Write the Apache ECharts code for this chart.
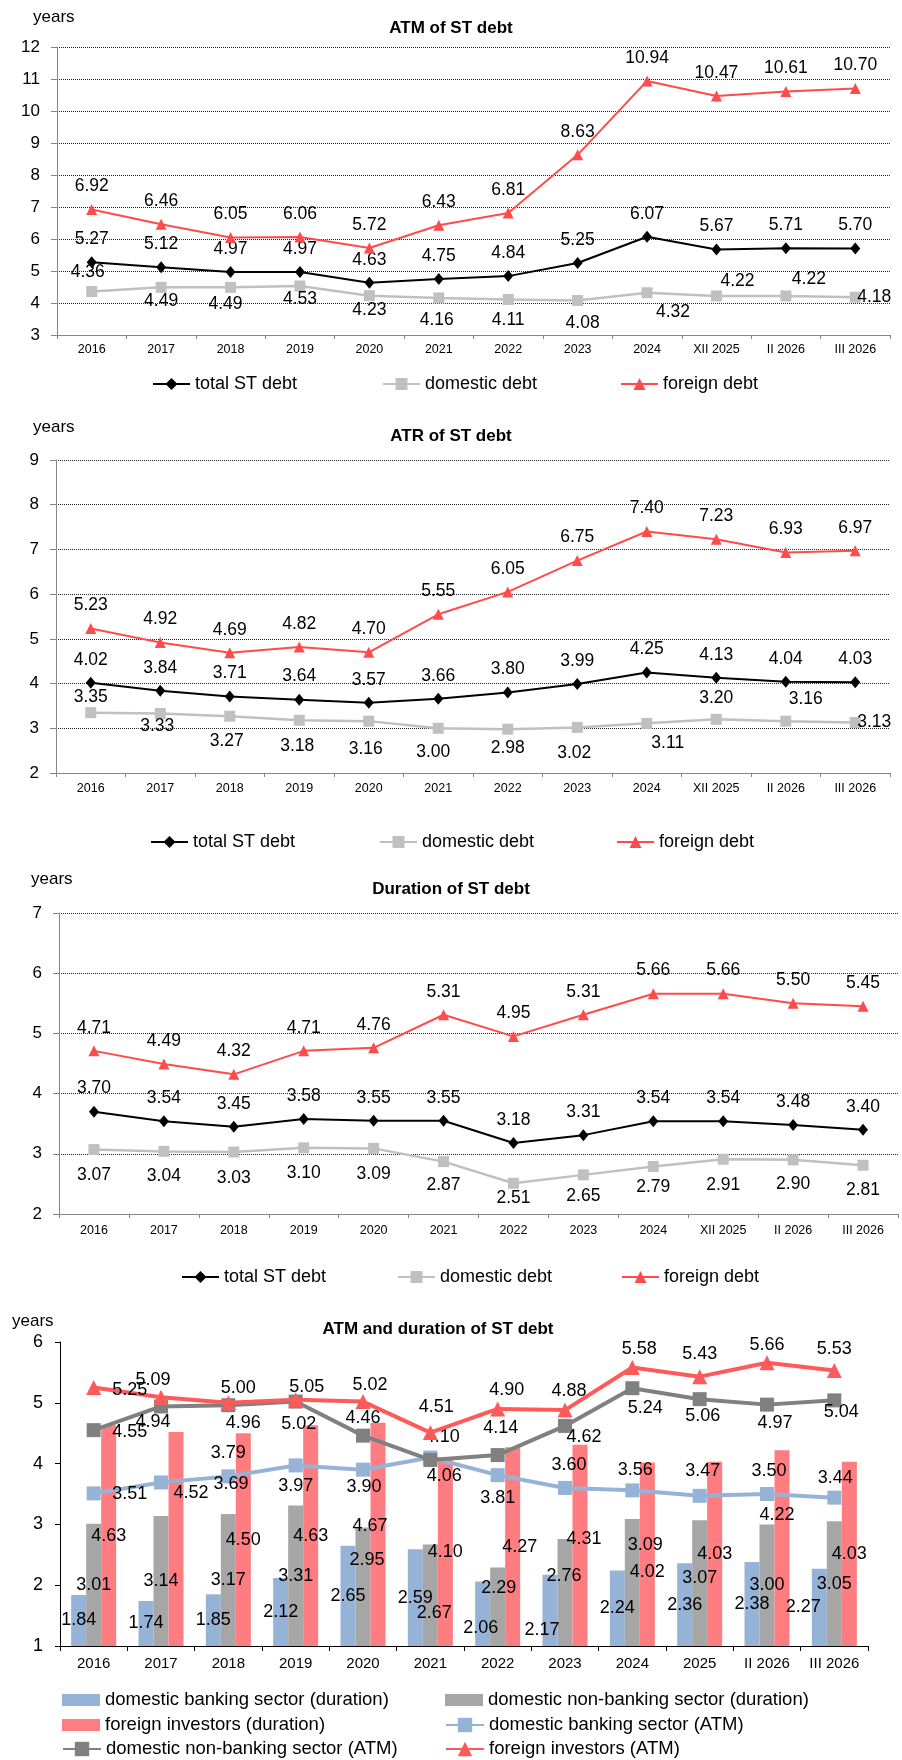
<!DOCTYPE html>
<html>
<head>
<meta charset="utf-8">
<script src="https://cdn.jsdelivr.net/npm/echarts@6/dist/echarts.min.js"></script>
<style>
  body { margin: 0; background: #fff; }
  .box { position: absolute; left: 0; width: 902px; }
</style>
</head>
<body>
<div id="c1" class="box" style="top:0;height:400px"></div>
<div id="c2" class="box" style="top:400px;height:460px"></div>
<div id="c3" class="box" style="top:860px;height:430px"></div>
<div id="c4" class="box" style="top:1290px;height:470px"></div>
<script>
// categories
var years = ['2016','2017','2018','2019','2020','2021','2022','2023','2024','XII 2025','II 2026','III 2026'];
var years4 = ['2016','2017','2018','2019','2020','2021','2022','2023','2024','2025','II 2026','III 2026'];

// ATM of ST debt
var atmTotal    = [5.27, 5.12, 4.97, 4.97, 4.63, 4.75, 4.84, 5.25, 6.07, 5.67, 5.71, 5.70];
var atmDomestic = [4.36, 4.49, 4.49, 4.53, 4.23, 4.16, 4.11, 4.08, 4.32, 4.22, 4.22, 4.18];
var atmForeign  = [6.92, 6.46, 6.05, 6.06, 5.72, 6.43, 6.81, 8.63, 10.94, 10.47, 10.61, 10.70];

// ATR of ST debt
var atrTotal    = [4.02, 3.84, 3.71, 3.64, 3.57, 3.66, 3.80, 3.99, 4.25, 4.13, 4.04, 4.03];
var atrDomestic = [3.35, 3.33, 3.27, 3.18, 3.16, 3.00, 2.98, 3.02, 3.11, 3.20, 3.16, 3.13];
var atrForeign  = [5.23, 4.92, 4.69, 4.82, 4.70, 5.55, 6.05, 6.75, 7.40, 7.23, 6.93, 6.97];

// Duration of ST debt
var durTotal    = [3.70, 3.54, 3.45, 3.58, 3.55, 3.55, 3.18, 3.31, 3.54, 3.54, 3.48, 3.40];
var durDomestic = [3.07, 3.04, 3.03, 3.10, 3.09, 2.87, 2.51, 2.65, 2.79, 2.91, 2.90, 2.81];
var durForeign  = [4.71, 4.49, 4.32, 4.71, 4.76, 5.31, 4.95, 5.31, 5.66, 5.66, 5.50, 5.45];

// ATM and duration by holder
var durBank     = [1.84, 1.74, 1.85, 2.12, 2.65, 2.59, 2.06, 2.17, 2.24, 2.36, 2.38, 2.27];
var durNonBank  = [3.01, 3.14, 3.17, 3.31, 2.95, 2.67, 2.29, 2.76, 3.09, 3.07, 3.00, 3.05];
var durForInv   = [4.63, 4.52, 4.50, 4.63, 4.67, 4.10, 4.27, 4.31, 4.02, 4.03, 4.22, 4.03];
var atmBank     = [3.51, 3.69, 3.79, 3.97, 3.90, 4.10, 3.81, 3.60, 3.56, 3.47, 3.50, 3.44];
var atmNonBank  = [4.55, 4.94, 4.96, 5.02, 4.46, 4.06, 4.14, 4.62, 5.24, 5.06, 4.97, 5.04];
var atmForInv   = [5.25, 5.09, 5.00, 5.05, 5.02, 4.51, 4.90, 4.88, 5.58, 5.43, 5.66, 5.53];

// label placement (pixel offsets from point / bar centre)
var upOff = [0, -23];
var domOff1 = [[-4,-19],[0,14],[-5,17],[0,13],[0,15],[-2,22],[0,21],[5,23],[26,19],[21,-15],[23,-17],[19,0]];
var domOff2 = [[0,-15],[-3,13],[-3,25],[-2,26],[-3,28],[-5,24],[0,19],[-3,26],[21,20],[0,-21],[20,-22],[19,0]];
var domOff3 = [[0,26],[0,25],[0,26],[0,25],[0,26],[0,24],[0,15],[0,21],[0,21],[0,26],[0,24],[0,25]];
var redAtmOff  = [[36,2],[-8,-17],[10,-15],[11,-13],[7,-17],[6,-26],[9,-19],[4,-19],[7,-19],[0,-23],[0,-18],[0,-22]];
var greyAtmOff = [[36,2],[-8,16],[15,18],[3,22],[0,-18],[14,16],[3,-27],[19,11],[13,20],[3,17],[8,18],[7,12]];
var blueAtmOff = [[36,1],[70,2],[0,-23],[0,21],[1,17],[12,-20],[0,23],[4,-23],[3,-20],[3,-25],[2,-23],[1,-20]];
var blueBarOff = [[0,0],[0,0],[0,0],[0,0],[0,0],[0,0],[-2,14],[-8,20],[0,0],[0,0],[0,0],[-16,0]];
var greyBarOff = [[0,0],[0,0],[0,0],[0,0],[4,-27],[4,18],[1,-19],[-1,-16],[13,-37],[0,-5],[0,0],[0,0]];
var redBarOff  = [[0,0],[15,-46],[0,0],[0,0],[-8,-8],[0,0],[7,0],[4,-6],[0,18],[0,0],[-5,-33],[0,0]];

var FONT = 'Liberation Sans, Arial, sans-serif';

function withLabels(vals, offs) {
  return vals.map(function (v, i) {
    var o = (typeof offs[0] === 'number') ? offs : offs[i];
    return { value: v, label: { offset: o } };
  });
}
function fmt(p) { return Number(p.value).toFixed(2); }

function txt(x, y, s, size, bold) {
  return { type: 'text', x: x, y: y, style: { text: s, fontFamily: FONT, fontSize: size,
    fontWeight: bold ? 'bold' : 'normal', fill: '#000', align: bold ? 'center' : 'left', verticalAlign: 'middle' } };
}

// charts 1-3 share one layout
function lineChart(id, c) {
  var myChart = echarts.init(document.getElementById(id));
  var lbl = { show: true, position: 'inside', color: '#000', fontFamily: FONT, fontSize: 17.5,
              textBorderWidth: 0, formatter: fmt };
  var names = ['total ST debt', 'domestic debt', 'foreign debt'];
  myChart.setOption({
    animation: false,
    backgroundColor: '#fff',
    graphic: [ txt(c.yearsX, c.yearsY, 'years', 17, false), txt(451, c.titleY, c.title, 17, true) ],
    grid: { left: c.left, right: c.right, top: c.top, height: c.height },
    legend: names.map(function (n, i) {
      return { data: [n], left: c.legendLeft[i], top: c.legendTop, padding: 0, itemWidth: 37, itemHeight: 15,
               selectedMode: false, textStyle: { fontFamily: FONT, fontSize: 18, color: '#000' } };
    }),
    xAxis: {
      type: 'category', data: years, boundaryGap: true,
      axisLine: { lineStyle: { color: '#868686', width: 1 } },
      axisTick: { show: true, length: 4, lineStyle: { color: '#868686' } },
      axisLabel: { color: '#000', fontFamily: FONT, fontSize: 12.5, margin: c.xMargin, interval: 0 }
    },
    yAxis: {
      type: 'value', min: c.min, max: c.max, interval: 1,
      axisLine: { show: true, lineStyle: { color: '#868686' } },
      axisTick: { show: true, length: 6, lineStyle: { color: '#868686' } },
      axisLabel: { color: '#000', fontFamily: FONT, fontSize: 17, margin: 17 },
      splitLine: { show: true, lineStyle: { color: '#222', type: [1, 1], width: 1 } }
    },
    series: [
      { name: names[0], type: 'line', data: withLabels(c.total, upOff), symbol: 'diamond', symbolSize: [10, 12],
        itemStyle: { color: '#000' }, lineStyle: { color: '#000', width: 2 }, label: lbl, z: 4 },
      { name: names[1], type: 'line', data: withLabels(c.domestic, c.domOff), symbol: 'rect', symbolSize: 11,
        itemStyle: { color: '#c0c0c0' }, lineStyle: { color: '#c0c0c0', width: 2.5 }, label: lbl, z: 3 },
      { name: names[2], type: 'line', data: withLabels(c.foreign, upOff), symbol: 'triangle', symbolSize: 11,
        itemStyle: { color: '#ff4b4b' }, lineStyle: { color: '#ff4b4b', width: 2 }, label: lbl, z: 5 }
    ]
  });
}

lineChart('c1', { title: 'ATM of ST debt', yearsX: 33, yearsY: 17, titleY: 28,
  left: 57, right: 12, top: 47, height: 288, min: 3, max: 12, xMargin: 8,
  legendTop: 375, legendLeft: [152, 382, 620],
  total: atmTotal, domestic: atmDomestic, foreign: atmForeign, domOff: domOff1 });

lineChart('c2', { title: 'ATR of ST debt', yearsX: 33, yearsY: 27, titleY: 36,
  left: 56, right: 12, top: 60, height: 313, min: 2, max: 9, xMargin: 9,
  legendTop: 433, legendLeft: [150, 379, 616],
  total: atrTotal, domestic: atrDomestic, foreign: atrForeign, domOff: domOff2 });

lineChart('c3', { title: 'Duration of ST debt', yearsX: 31, yearsY: 19, titleY: 29,
  left: 59, right: 4, top: 53, height: 301, min: 2, max: 7, xMargin: 10,
  legendTop: 408, legendLeft: [181, 397, 621],
  total: durTotal, domestic: durDomestic, foreign: durForeign, domOff: domOff3 });

// ATM and duration of ST debt
var myChart4 = echarts.init(document.getElementById('c4'));
var lbl4 = { show: true, position: 'inside', color: '#000', fontFamily: FONT, fontSize: 18,
             textBorderWidth: 0, formatter: fmt };
var n4 = ['domestic banking sector (duration)', 'domestic non-banking sector (duration)',
          'foreign investors (duration)', 'domestic banking sector (ATM)',
          'domestic non-banking sector (ATM)', 'foreign investors (ATM)'];
var legPos = [[62, 410], [445, 410], [62, 435], [445, 435], [62, 459], [445, 459]];
myChart4.setOption({
  animation: false,
  backgroundColor: '#fff',
  graphic: [ txt(12, 31, 'years', 17, false), txt(438, 39, 'ATM and duration of ST debt', 17, true) ],
  grid: { left: 60, right: 34, top: 52, height: 304 },
  legend: n4.map(function (n, i) {
    // first three are the bar series
    var h = i < 3 ? 12 : 18;
    return { data: [i < 3 ? { name: n, icon: 'rect' } : n], left: legPos[i][0], top: legPos[i][1] - 11,
             padding: 0, itemWidth: 38, itemHeight: h, selectedMode: false,
             textStyle: { fontFamily: FONT, fontSize: 18.5, color: '#000', lineHeight: 22 } };
  }),
  xAxis: {
    type: 'category', data: years4, boundaryGap: true,
    axisLine: { lineStyle: { color: '#000' } },
    axisTick: { show: true, length: 5, lineStyle: { color: '#000' } },
    axisLabel: { color: '#000', fontFamily: FONT, fontSize: 15, margin: 10, interval: 0 }
  },
  yAxis: {
    type: 'value', min: 1, max: 6, interval: 1,
    axisLine: { show: true, lineStyle: { color: '#000' } },
    axisTick: { show: true, length: 5, lineStyle: { color: '#000' } },
    axisLabel: { color: '#000', fontFamily: FONT, fontSize: 18, margin: 17 },
    splitLine: { show: false }
  },
  series: [
    { name: n4[0], type: 'bar', data: withLabels(durBank, blueBarOff), barWidth: 15, barGap: '0%',
      itemStyle: { color: '#95b3d7' }, label: lbl4 },
    { name: n4[1], type: 'bar', data: withLabels(durNonBank, greyBarOff), barWidth: 15, barGap: '0%',
      itemStyle: { color: '#a6a6a6' }, label: lbl4 },
    { name: n4[2], type: 'bar', data: withLabels(durForInv, redBarOff), barWidth: 15, barGap: '0%',
      itemStyle: { color: '#ff7c80' }, label: lbl4 },
    { name: n4[3], type: 'line', data: withLabels(atmBank, blueAtmOff), symbol: 'rect', symbolSize: 14,
      itemStyle: { color: '#95b3d7' }, lineStyle: { color: '#95b3d7', width: 4 }, label: lbl4, z: 5 },
    { name: n4[4], type: 'line', data: withLabels(atmNonBank, greyAtmOff), symbol: 'rect', symbolSize: 14,
      itemStyle: { color: '#808080' }, lineStyle: { color: '#808080', width: 4 }, label: lbl4, z: 6 },
    { name: n4[5], type: 'line', data: withLabels(atmForInv, redAtmOff), symbol: 'triangle', symbolSize: 15,
      itemStyle: { color: '#ff5a5a' }, lineStyle: { color: '#ff5a5a', width: 4 }, label: lbl4, z: 7 }
  ]
});
</script>
</body>
</html>
